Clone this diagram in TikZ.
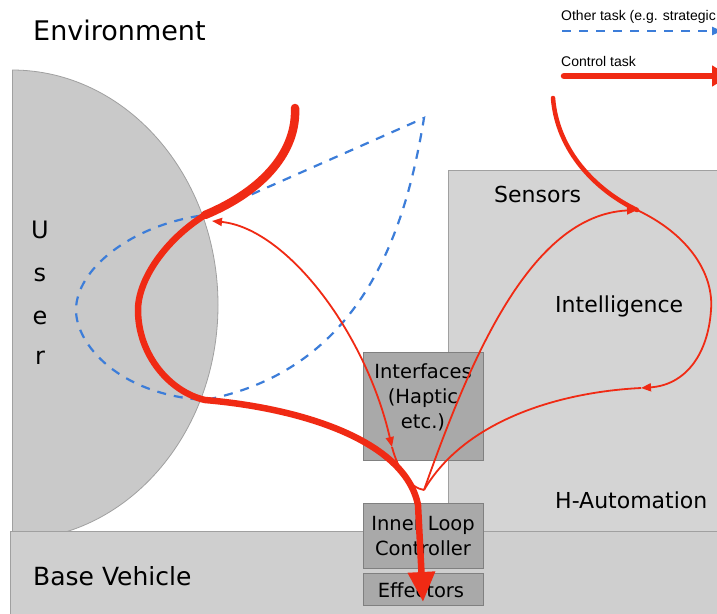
\documentclass[tikz,border=0pt]{standalone}
\usepackage{fontspec}
\setmainfont{DejaVu Sans}
\newfontfamily\legendfont{Liberation Sans}
\usetikzlibrary{arrows.meta}
\definecolor{myred}{HTML}{F02A14}
\definecolor{myblue}{HTML}{3C7DD9}
\definecolor{usergray}{HTML}{C9C9C9}
\definecolor{autogray}{HTML}{D4D4D4}
\definecolor{basegray}{HTML}{CFCFCF}
\definecolor{boxgray}{HTML}{A9A9A9}
\definecolor{edgegray}{HTML}{A0A0A0}
\begin{document}
\begin{tikzpicture}[x=1pt,y=-1pt,
  panel/.style={draw=edgegray, line width=0.8pt, inner sep=0pt},
  ibox/.style={draw=gray, fill=boxgray, line width=0.8pt, inner sep=0pt, minimum width=120pt},
  lbl/.style={inner sep=0pt, anchor=base west, font=\fontsize{22}{26}\selectfont},
  boxtext/.style={inner sep=0pt, align=center, font=\fontsize{19.5}{25}\selectfont},
  userletter/.style={inner sep=0pt, font=\fontsize{24}{28}\selectfont},
  legend/.style={inner sep=0pt, anchor=base west, font=\legendfont\fontsize{14}{16}\selectfont},
  thinred/.style={draw=myred, line width=1.8pt},
  smalltip/.style={-{Triangle[width=8pt,length=10pt]}},
  bluedash/.style={draw=myblue, line width=2.2pt, dash pattern=on 9pt off 8pt}
]
\useasboundingbox (0,0) rectangle (717,613);
\fill[white] (0,0) rectangle (717,613);

% user half disc
\begin{scope}
  \clip (12,0) rectangle (717,613);
  \filldraw[fill=usergray, draw=edgegray, line width=0.8pt] (12,305) ellipse [x radius=206pt, y radius=235pt];
\end{scope}
\draw[edgegray, line width=0.8pt] (12,70) -- (12,531);

% automation panel and base vehicle
\node[panel, fill=autogray, minimum width=275pt, minimum height=365pt, anchor=north west] (auto) at (448,170) {};
\node[panel, fill=basegray, minimum width=715pt, minimum height=90pt, anchor=north west] (base) at (10,531) {};

% component boxes
\node[ibox, minimum height=108pt] (iface) at (423,406) {};
\node[ibox, minimum height=65pt] (inner) at (423,535.5) {};
\node[ibox, minimum height=32pt] (eff) at (423,589) {};

% texts
\node[lbl, font=\fontsize{27}{30}\selectfont] (env) at (33,40) {Environment};
\node[lbl] (sens) at (494,202) {Sensors};
\node[lbl] (intl) at (555,312) {Intelligence};
\node[lbl] (hauto) at (555,508) {H-Automation};
\node[lbl, font=\fontsize{25}{28}\selectfont] (bv) at (33,585) {Base Vehicle};
\node[userletter] (uU) at (40,230) {U};
\node[userletter] (us) at (40,275) {s};
\node[userletter] (ue) at (40,318) {e};
\node[userletter] (ur) at (40,358) {r};
\node[boxtext] (ifacetext) at (423,397) {Interfaces\\(Haptic\\etc.)};
\node[boxtext] (innertext) at (423,536) {Inner Loop\\Controller};
\node[boxtext] (efftext) at (421,590) {Effectors};

% legend
\node[legend] (lg1) at (561,20) {Other task (e.g. strategic};
\node[legend] (lg2) at (561,66) {Control task};
\coordinate (lb1) at (562,31);
\coordinate (lb2) at (722,31);
\coordinate (lr1) at (564,76);
\coordinate (lr2) at (730,76);
\draw[bluedash, -{Triangle[width=8pt,length=10pt]}] (lb1) -- (lb2);
\draw[myred, line width=6.5pt, line cap=round, -{Triangle[width=20pt,length=18pt]}] (lr1) -- (lr2);

% key coordinates
\coordinate (top1) at (295,108);
\coordinate (top2) at (553,98);
\coordinate (userin) at (205,215);
\coordinate (userarrow) at (212,221);
\coordinate (userout) at (205,400);
\coordinate (bluetop) at (424,118);
\coordinate (junc) at (424,490);
\coordinate (midA) at (392,447);
\coordinate (sensin) at (637,210);
\coordinate (intel) at (641,388);
\coordinate (effend) at (423,602);

% blue dashed other task loop
\draw[bluedash] (userin) -- (bluetop) .. controls (405,235) and (360,370) .. (userout)
  .. controls (120,395) and (76,345) .. (76,310) .. controls (76,270) and (130,225) .. (userin);

% thin red loops
\draw[thinred, {Triangle[width=8pt,length=10pt]}-{Triangle[width=8pt,length=10pt]}] (userarrow) .. controls (285,228) and (365,330) .. (midA);
\draw[thinred] (midA) .. controls (398,470) and (410,488) .. (junc);
\draw[thinred, smalltip] (junc) .. controls (470,360) and (530,215) .. (sensin);
\draw[thinred, smalltip] (sensin) .. controls (690,235) and (714,275) .. (711,310) .. controls (708,355) and (685,385) .. (intel);
\draw[thinred] (intel) .. controls (560,392) and (465,420) .. (junc);

% thick red control task
\draw[myred, line width=4.5pt, line cap=round] (top2) .. controls (557,150) and (595,190) .. (sensin);
\draw[myred, line width=8.5pt, line cap=round] (top1) .. controls (297,150) and (265,190) .. (userin);
\draw[myred, line width=6.5pt, line cap=round, -{Triangle[width=26pt,length=30pt]}] (userin) .. controls (165,240) and (138,280) .. (138,310)
  .. controls (138,355) and (170,392) .. (userout) .. controls (300,408) and (405,440) .. (418,505) -- (effend);
\end{tikzpicture}
\end{document}
